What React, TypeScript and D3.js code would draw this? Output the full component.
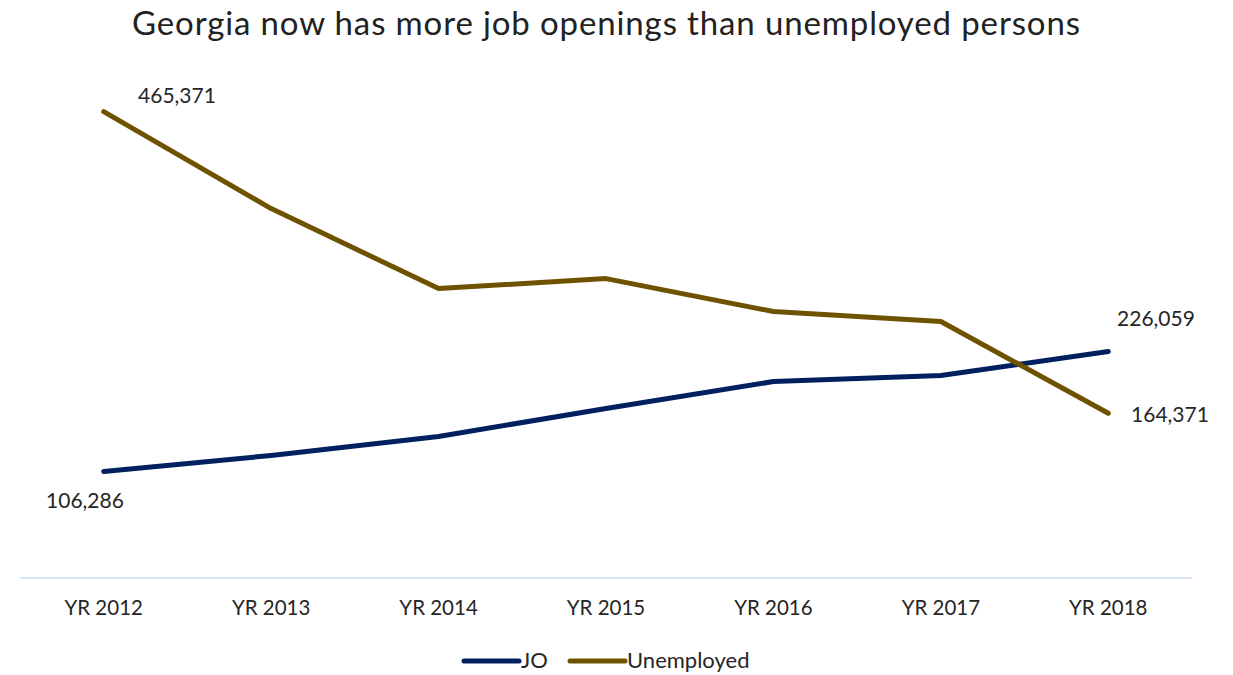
import React from "react";
import * as d3 from "d3";

const categories = ["YR 2012", "YR 2013", "YR 2014", "YR 2015", "YR 2016", "YR 2017", "YR 2018"];
const joValues = [106286, 122300, 141200, 169200, 196100, 202100, 226059];
const unemployedValues = [465371, 368700, 288900, 298800, 265900, 256000, 164371];
const seriesNames = ["JO", "Unemployed"];
const seriesColors = ["#002060", "#6e5200"];

const W = 1233;
const H = 675;
const FONT = "Lato, 'Open Sans', sans-serif";

export default function App() {
  const x = d3.scaleBand<string>().domain(categories).range([20, 1192]).padding(0);
  const y = d3.scaleLinear().domain([0, 500000]).range([578, 77]);
  const cx = (c: string) => (x(c) as number) + x.bandwidth() / 2;
  const line = d3
    .line<number>()
    .x((_, i) => cx(categories[i]))
    .y((d) => y(d));
  const fmt = d3.format(",");
  const series = [joValues, unemployedValues];
  const last = categories.length - 1;

  return (
    <svg width={W} height={H} style={{ position: "absolute", left: 0, top: 0, background: "#fff" }}>
      <rect width={W} height={H} fill="#fff" />
      <text x={132} y={35} textLength={948} lengthAdjust="spacing" fontFamily={FONT} fontSize={33} fill="#222">
        Georgia now has more job openings than unemployed persons
      </text>
      <line x1={20} x2={1192} y1={578} y2={578} stroke="#c9dcf0" strokeWidth={1.5} />
      {categories.map((c) => (
        <text key={c} x={cx(c)} y={615} textAnchor="middle" fontFamily={FONT} fontSize={20.5} fill="#262626">
          {c}
        </text>
      ))}
      {series.map((s, i) => (
        <path key={i} d={line(s) || ""} fill="none" stroke={seriesColors[i]} strokeWidth={5} strokeLinecap="round" strokeLinejoin="round" />
      ))}
      <text x={177} y={103} textAnchor="middle" fontFamily={FONT} fontSize={21} fill="#262626">
        {fmt(unemployedValues[0])}
      </text>
      <text x={85} y={508} textAnchor="middle" fontFamily={FONT} fontSize={21} fill="#262626">
        {fmt(joValues[0])}
      </text>
      <text x={1156} y={326} textAnchor="middle" fontFamily={FONT} fontSize={21} fill="#262626">
        {fmt(joValues[last])}
      </text>
      <text x={1170} y={422} textAnchor="middle" fontFamily={FONT} fontSize={21} fill="#262626">
        {fmt(unemployedValues[last])}
      </text>
      {seriesNames.map((n, i) => {
        const lx = i === 0 ? 464 : 570;
        return (
          <g key={n}>
            <line x1={lx} x2={lx + 55} y1={661} y2={661} stroke={seriesColors[i]} strokeWidth={5} strokeLinecap="round" />
            <text x={lx + 57} y={668} fontFamily={FONT} fontSize={22} fill="#262626">
              {n}
            </text>
          </g>
        );
      })}
    </svg>
  );
}
